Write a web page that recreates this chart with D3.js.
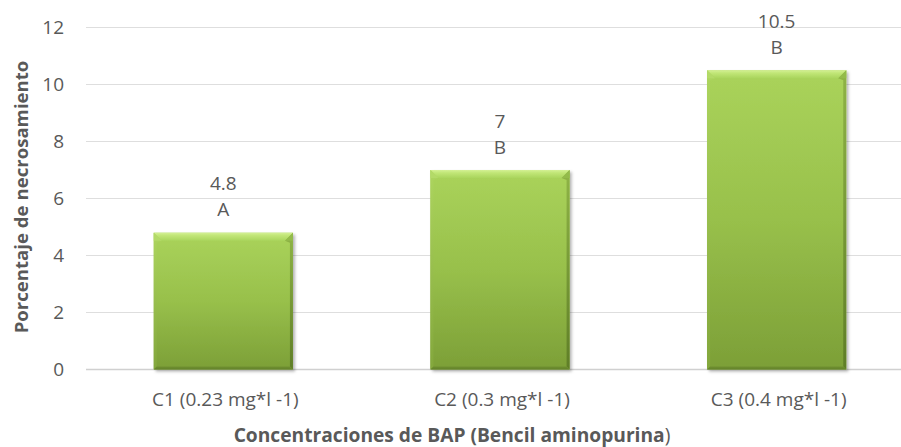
<!DOCTYPE html>
<html>
<head>
<meta charset="utf-8">
<script src="https://cdn.jsdelivr.net/npm/d3@7"></script>
<style>
  html, body { margin: 0; padding: 0; background: #fff; }
  svg { display: block; font-family: "Open Sans", "Noto Sans", sans-serif; }
</style>
</head>
<body>
<svg id="chart" width="901" height="447"></svg>
<script>
// Necrosis percentage by BAP concentration
const categories = ["C1 (0.23 mg*l -1)", "C2 (0.3 mg*l -1)", "C3 (0.4 mg*l -1)"];
const necrosis = [4.8, 7, 10.5];
const groupLetters = ["A", "B", "B"];
const yTicks = [0, 2, 4, 6, 8, 10, 12];
const yTitle = "Porcentaje de necrosamiento";
const xTitleBold = "Concentraciones de BAP (Bencil aminopurina";
const xTitleTail = ")";

const svg = d3.select("#chart");
const W = 901;
const textColor = "#595959";
const fontFamily = "'Open Sans', 'Noto Sans', sans-serif";
const labelSize = 19;

const x = d3.scaleBand()
  .domain(categories)
  .range([85, 915])
  .paddingInner(0.497)
  .paddingOuter(0.2485);

const y = d3.scaleLinear().domain([0, 12]).range([369.5, 27.5]);

// Gridlines
svg.append("g")
  .selectAll("line")
  .data(yTicks)
  .join("line")
  .attr("x1", 86).attr("x2", W)
  .attr("y1", d => y(d)).attr("y2", d => y(d))
  .attr("stroke", d => d === 0 ? "#d0d0d0" : "#dedede")
  .attr("stroke-width", d => d === 0 ? 1.5 : 1);

// Y axis tick labels
const yAxis = d3.axisLeft(y).tickValues(yTicks).tickSize(0).tickPadding(0);
const gy = svg.append("g").attr("transform", "translate(64,0)").call(yAxis);
gy.select(".domain").remove();
gy.selectAll("text")
  .attr("fill", textColor)
  .attr("font-size", labelSize)
  .attr("font-family", fontFamily);

// X axis category labels
const xAxis = d3.axisBottom(x).tickSize(0).tickPadding(0);
const gx = svg.append("g").attr("transform", "translate(2,392)").call(xAxis);
gx.select(".domain").remove();
gx.selectAll("text")
  .attr("fill", textColor)
  .attr("font-size", labelSize)
  .attr("font-family", fontFamily)
  .attr("dy", "0.72em");

// Gradients and shadow for the bevelled bars
const defs = svg.append("defs");
function vGrad(id, stops) {
  const g = defs.append("linearGradient").attr("id", id)
    .attr("x1", 0).attr("y1", 0).attr("x2", 0).attr("y2", 1);
  stops.forEach(([o, c]) => g.append("stop").attr("offset", o).attr("stop-color", c));
}
vGrad("bodyGrad", [[0, "#aad35b"], [0.5, "#98c04b"], [1, "#7c9f37"]]);
vGrad("topGrad", [[0, "#d4f095"], [0.35, "#c1e677"], [1, "#aad55d"]]);
vGrad("leftGrad", [[0, "#add55f"], [1, "#83a73c"]]);
vGrad("rightGrad", [[0, "#8fb446"], [1, "#5f7e27"]]);
vGrad("bottomGrad", [[0, "#6f9030"], [1, "#63822a"]]);

const shadow = defs.append("filter").attr("id", "barShadow")
  .attr("x", "-10%").attr("y", "-10%").attr("width", "130%").attr("height", "130%");
shadow.append("feDropShadow")
  .attr("dx", 2).attr("dy", 2).attr("stdDeviation", 1.8)
  .attr("flood-color", "#000").attr("flood-opacity", 0.3);

const data = categories.map((c, i) => ({ c, v: necrosis[i], g: groupLetters[i] }));

const bars = svg.append("g").selectAll("g.bar")
  .data(data)
  .join("g")
  .attr("class", "bar");

const bt = 8, bs = 3, bb = 3; // bevel sizes: top, sides, bottom

bars.each(function(d) {
  const g = d3.select(this);
  const x0 = x(d.c), x1 = x0 + x.bandwidth();
  const y0 = y(d.v), y1 = y(0);
  g.append("rect")
    .attr("x", x0).attr("y", y0)
    .attr("width", x1 - x0).attr("height", y1 - y0)
    .attr("fill", "url(#bodyGrad)")
    .attr("filter", "url(#barShadow)");
  const poly = pts => pts.map(p => p.join(",")).join(" ");
  // left edge
  g.append("polygon")
    .attr("points", poly([[x0, y0], [x0 + bt, y0 + bt], [x0 + bs, y0 + bt + 2], [x0 + bs, y1 - bb], [x0, y1]]))
    .attr("fill", "url(#leftGrad)");
  // right edge
  g.append("polygon")
    .attr("points", poly([[x1, y0], [x1, y1], [x1 - bs, y1 - bb], [x1 - bs, y0 + bt + 2], [x1 - bt, y0 + bt]]))
    .attr("fill", "url(#rightGrad)");
  // bottom edge
  g.append("polygon")
    .attr("points", poly([[x0, y1], [x0 + bs, y1 - bb], [x1 - bs, y1 - bb], [x1, y1]]))
    .attr("fill", "url(#bottomGrad)");
  // top bevel
  g.append("polygon")
    .attr("points", poly([[x0, y0], [x1, y0], [x1 - bt, y0 + bt], [x0 + bt, y0 + bt]]))
    .attr("fill", "url(#topGrad)");
  // top corner facets
  g.append("polygon")
    .attr("points", poly([[x0, y0], [x0 + bt, y0 + bt], [x0, y0 + bt]]))
    .attr("fill", "#b3da68");
  g.append("polygon")
    .attr("points", poly([[x1, y0], [x1, y0 + bt], [x1 - bt, y0 + bt]]))
    .attr("fill", "#93bb4a");
});

// Value and group labels above bars
const labels = svg.append("g")
  .attr("fill", textColor)
  .attr("font-size", labelSize)
  .attr("text-anchor", "middle");
labels.selectAll("text.val")
  .data(data)
  .join("text")
  .attr("class", "val")
  .attr("x", d => x(d.c) + x.bandwidth() / 2)
  .attr("y", d => y(d.v) - 42.5)
  .text(d => d.v);
labels.selectAll("text.grp")
  .data(data)
  .join("text")
  .attr("class", "grp")
  .attr("x", d => x(d.c) + x.bandwidth() / 2)
  .attr("y", d => y(d.v) - 16.5)
  .text(d => d.g);

// Axis titles
svg.append("text")
  .attr("transform", "translate(28,197) rotate(-90)")
  .attr("text-anchor", "middle")
  .attr("fill", textColor)
  .attr("font-size", 18.6)
  .attr("font-weight", "bold")
  .text(yTitle);

const xt = svg.append("text")
  .attr("x", 452).attr("y", 441.5)
  .attr("text-anchor", "middle")
  .attr("fill", textColor)
  .attr("font-size", 19.2);
xt.append("tspan").attr("font-weight", "bold").text(xTitleBold);
xt.append("tspan").text(xTitleTail);
</script>
</body>
</html>
